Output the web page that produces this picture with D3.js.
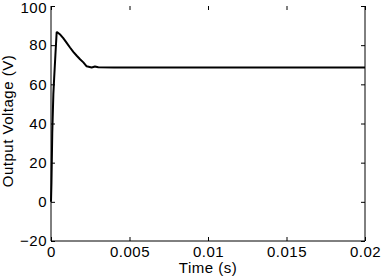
<!DOCTYPE html>
<html><head><meta charset="utf-8">
<script src="https://cdn.jsdelivr.net/npm/d3@7"></script>
<style>body{margin:0;background:#fff}svg{display:block}text{font-family:"Liberation Sans",Arial,sans-serif;fill:#000}</style>
</head><body><svg id="c" width="382" height="277"></svg>
<script>
const timeS = [0, 0.00003, 0.00008, 0.00015, 0.0002, 0.00028, 0.00036, 0.0004, 0.0006, 0.00078, 0.001, 0.00121, 0.00142, 0.00164, 0.00185, 0.00206, 0.00227, 0.00259, 0.0028, 0.00301, 0.004, 0.006, 0.01, 0.015, 0.02];
const voltage = [0, 10, 35, 55, 63, 75, 86.5, 86.6, 85.3, 83.6, 81.2, 78.8, 76.6, 74.6, 72.8, 71.2, 69.2, 68.6, 69.1, 68.7, 68.6, 68.6, 68.6, 68.6, 68.6];
const xTicks = [0, 0.005, 0.01, 0.015, 0.02];
const xTickLabels = ["0", "0.005", "0.01", "0.015", "0.02"];
const yTicks = [-20, 0, 20, 40, 60, 80, 100];

const svg = d3.select("#c");
const L = 51, R = 365, T = 6, B = 241;
const x = d3.scaleLinear().domain([0, 0.02]).range([L, R]);
const y = d3.scaleLinear().domain([-20, 100]).range([B, T]);
const FS = 15, LS = 0.5;

svg.append("line").attr("x1", L).attr("x2", L).attr("y1", T).attr("y2", B).attr("stroke", "#000");
svg.append("line").attr("x1", R).attr("x2", R).attr("y1", T).attr("y2", B).attr("stroke", "#000");
svg.append("line").attr("x1", L).attr("x2", R).attr("y1", B).attr("y2", B).attr("stroke", "#000");

const xa = svg.append("g").attr("transform", `translate(0,${B})`)
  .call(d3.axisBottom(x).tickValues(xTicks).tickSize(-4).tickPadding(5).tickFormat((d, i) => xTickLabels[i]));
const ya = svg.append("g").attr("transform", `translate(${L},0)`)
  .call(d3.axisLeft(y).tickValues(yTicks).tickSize(-4).tickPadding(4));
const ta = svg.append("g").attr("transform", `translate(0,${T})`)
  .call(d3.axisTop(x).tickValues(xTicks).tickSize(-4).tickFormat(""));
const ra = svg.append("g").attr("transform", `translate(${R},0)`)
  .call(d3.axisRight(y).tickValues(yTicks).tickSize(-4).tickFormat(""));
[xa, ya, ta, ra].forEach(g => { g.select(".domain").remove(); g.selectAll("line").attr("stroke", "#000"); });
[xa, ya].forEach(g => g.selectAll("text").attr("font-size", FS).attr("letter-spacing", LS)
  .attr("font-family", '"Liberation Sans",Arial,sans-serif').attr("fill", "#000"));
ya.selectAll("text").filter(d => d === 100).attr("dy", "0.4em");

svg.append("path").datum(timeS.map((t, i) => [t, voltage[i]]))
  .attr("fill", "none").attr("stroke", "#000").attr("stroke-width", 2).attr("stroke-linejoin", "round")
  .attr("d", d3.line().x(d => x(d[0])).y(d => y(d[1])));

svg.append("text").attr("x", (L + R) / 2).attr("y", 273).attr("text-anchor", "middle")
  .attr("font-size", FS).attr("letter-spacing", LS).text("Time (s)");
svg.append("text").attr("transform", `translate(13,121) rotate(-90)`).attr("text-anchor", "middle")
  .attr("font-size", FS).attr("letter-spacing", LS).text("Output Voltage (V)");
</script></body></html>
